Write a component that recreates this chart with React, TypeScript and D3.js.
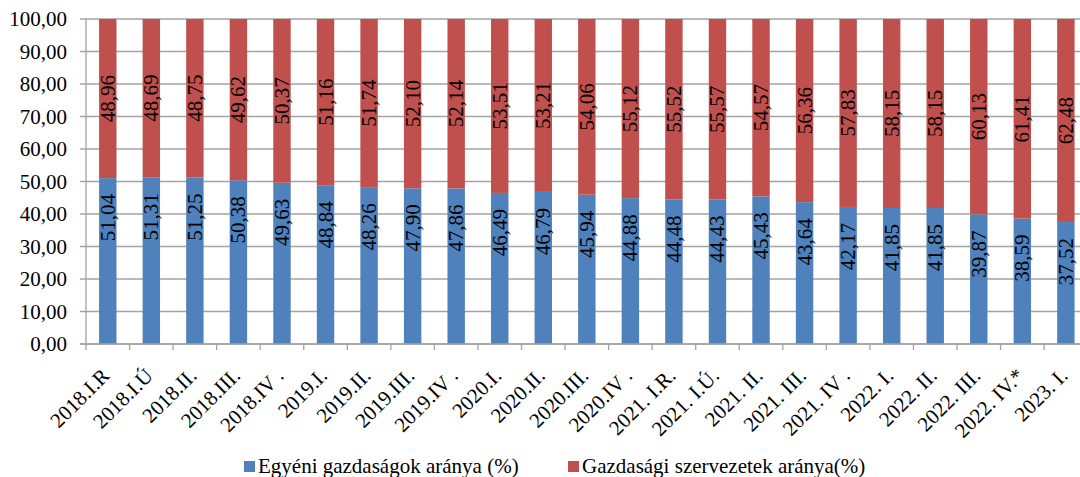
import React from "react";
import * as d3 from "d3";

const categories = [
  "2018.I.R", "2018.I.Ú", "2018.II.", "2018.III.", "2018.IV .", "2019.I.", "2019.II.", "2019.III.",
  "2019.IV .", "2020.I.", "2020.II.", "2020.III.", "2020.IV .", "2021. I.R.", "2021. I.Ú.", "2021. II.",
  "2021. III.", "2021. IV .", "2022. I.", "2022. II.", "2022. III.", "2022. IV.*", "2023. I.",
];
const egyeni = [
  51.04, 51.31, 51.25, 50.38, 49.63, 48.84, 48.26, 47.9, 47.86, 46.49, 46.79, 45.94, 44.88, 44.48,
  44.43, 45.43, 43.64, 42.17, 41.85, 41.85, 39.87, 38.59, 37.52,
];
const szervezet = [
  48.96, 48.69, 48.75, 49.62, 50.37, 51.16, 51.74, 52.1, 52.14, 53.51, 53.21, 54.06, 55.12, 55.52,
  55.57, 54.57, 56.36, 57.83, 58.15, 58.15, 60.13, 61.41, 62.48,
];
const yTicks = [0, 10, 20, 30, 40, 50, 60, 70, 80, 90, 100];
const seriesNames = ["Egyéni gazdaságok aránya (%)", "Gazdasági szervezetek aránya(%)"];
const colors = ["#4F81BD", "#C0504D"];

const W = 1080;
const H = 477;
const left = 86;
const top = 19;
const bottom = 344;
const step = 43.55;
const font = "Liberation Serif, Times New Roman, DejaVu Serif, serif";
const fmt = (v: number) => d3.format(".2f")(v).replace(".", ",");
const ts = { fontFamily: font, fill: "#000" } as React.CSSProperties;

export default function App() {
  const x = d3
    .scaleBand<string>()
    .domain(categories)
    .range([left, left + step * categories.length])
    .paddingInner(0.6)
    .paddingOuter(0.3);
  const y = d3.scaleLinear().domain([0, 100]).range([bottom, top]);
  const grid = "#A3A3A3";
  const bw = x.bandwidth();
  const stepV = x.step();

  return (
    <svg
      width={W}
      height={H}
      style={{ position: "absolute", left: 0, top: 0, background: "#fff", fontFamily: font }}
    >
      {yTicks.map((t) => (
        <line key={"g" + t} x1={80} x2={W} y1={y(t)} y2={y(t)} stroke={grid} strokeWidth={1.3} />
      ))}
      <line x1={left} x2={left} y1={top} y2={bottom + 6} stroke={grid} strokeWidth={1.3} />
      {yTicks.map((t) => (
        <text
          key={"yt" + t}
          x={67}
          y={y(t)}
          textAnchor="end"
          dominantBaseline="central"
          fontSize={21}
          style={ts}
        >
          {fmt(t)}
        </text>
      ))}
      {categories.map((c, i) => (
        <line
          key={"xt" + i}
          x1={left + stepV * (i + 1)}
          x2={left + stepV * (i + 1)}
          y1={bottom}
          y2={bottom + 6}
          stroke={grid}
          strokeWidth={1.3}
        />
      ))}
      {categories.map((c, i) => {
        const x0 = x(c) as number;
        const b = egyeni[i];
        const r = szervezet[i];
        return (
          <g key={"b" + i}>
            <rect x={x0} y={y(b)} width={bw} height={y(0) - y(b)} fill={colors[0]} />
            <rect x={x0} y={y(b + r)} width={bw} height={y(b) - y(b + r)} fill={colors[1]} />
          </g>
        );
      })}
      <line x1={80} x2={W} y1={bottom} y2={bottom} stroke={grid} strokeWidth={1.3} />
      {categories.map((c, i) => {
        const cx = (x(c) as number) + bw / 2;
        const b = egyeni[i];
        const r = szervezet[i];
        const yb = y(b) + 16;
        const yr = (y(b) + y(b + r)) / 2;
        return (
          <g key={"l" + i}>
            <text
              transform={`translate(${cx},${yb}) rotate(-90)`}
              textAnchor="end"
              dominantBaseline="central"
              fontSize={21}
              style={ts}
            >
              {fmt(b)}
            </text>
            <text
              transform={`translate(${cx},${yr}) rotate(-90)`}
              textAnchor="middle"
              dominantBaseline="central"
              fontSize={21}
              style={ts}
            >
              {fmt(r)}
            </text>
          </g>
        );
      })}
      {categories.map((c, i) => {
        const cx = (x(c) as number) + bw / 2;
        return (
          <text
            key={"xl" + i}
            transform={`translate(${cx + 3},${377}) rotate(-45)`}
            textAnchor="end"
            fontSize={21}
            style={ts}
          >
            {c}
          </text>
        );
      })}
      <rect x={244} y={461} width={11} height={11} fill={colors[0]} />
      <text x={258} y={473} fontSize={21} style={ts}>
        {seriesNames[0]}
      </text>
      <rect x={568} y={461} width={11} height={11} fill={colors[1]} />
      <text x={582} y={473} fontSize={21} style={ts}>
        {seriesNames[1]}
      </text>
    </svg>
  );
}
